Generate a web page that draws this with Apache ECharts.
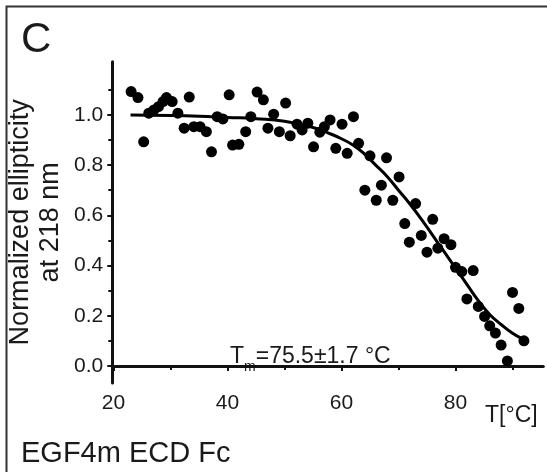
<!DOCTYPE html>
<html>
<head>
<meta charset="utf-8">
<script src="https://cdn.jsdelivr.net/npm/echarts@6/dist/echarts.min.js"></script>
<style>
html,body{margin:0;padding:0;background:#fff;}
#chart{width:547px;height:472px;}
</style>
</head>
<body>
<div id="chart"></div>
<script>
// Measured points (temperature in °C, normalized ellipticity at 218 nm)
var tempPoints = [23.1,24.3,25.3,26.2,27.1,27.9,28.7,29.3,30.3,31.3,32.4,33.3,34.1,35.2,36.3,37.2,38.2,39.2,40.3,40.9,42.0,43.2,44.1,45.2,46.3,47.1,48.1,49.1,50.2,51.0,52.2,53.1,54.1,55.1,56.2,57.0,58.0,59.0,60.1,61.0,62.1,63.0,64.1,65.0,66.1,67.0,67.9,69.0,70.1,71.1,71.9,73.0,74.0,75.0,76.0,76.9,78.0,79.2,80.0,81.1,82.0,83.1,84.0,85.1,86.0,87.0,88.0,89.1,90.0,91.1,92.0];
var ellipticity = [1.093,1.069,0.893,1.007,1.02,1.033,1.053,1.069,1.053,1.007,0.947,1.071,0.953,0.953,0.933,0.853,0.993,0.984,1.08,0.88,0.883,0.933,0.993,1.091,1.06,0.947,1.003,0.933,1.047,0.917,0.963,0.94,0.967,0.873,0.931,0.953,0.98,0.867,0.963,0.847,0.993,0.887,0.70,0.837,0.66,0.72,0.829,0.66,0.753,0.567,0.493,0.647,0.52,0.453,0.584,0.469,0.507,0.483,0.393,0.376,0.267,0.38,0.237,0.197,0.16,0.131,0.083,0.02,0.293,0.229,0.10];
// Fitted curve
var fitTemp = [23,30,35,40,45,50,55,58,60,62,64,66,68,70,72,74,76,78,80,82,84,86,88,90,92];
var fitValue = [1.000,0.998,0.995,0.99,0.985,0.975,0.95,0.925,0.905,0.88,0.845,0.80,0.755,0.70,0.645,0.585,0.52,0.455,0.39,0.325,0.26,0.205,0.165,0.13,0.105];
// Ticks
var yMajorTicks = [0,0.2,0.4,0.6,0.8,1.0];
var yMinorTicks = [0.1,0.3,0.5,0.7,0.9,1.1];
var xMajorTicks = [20,40,60,80];
var xMinorTicks = [30,50,70,90];

var FONT = '"Liberation Sans", Arial, sans-serif';
var TXT = '#1a1a1a';

var scatterData = tempPoints.map(function(t,i){return [t, ellipticity[i]];});
var fitData = fitTemp.map(function(t,i){return [t, fitValue[i]];});

var chart = echarts.init(document.getElementById('chart'), null, {renderer:'canvas'});
var xMin = 19.8, xMax = 95.4, yMin = -0.068, yMax = 1.212;
var axisCommonX = {
  type:'value', min:xMin, max:xMax, position:'bottom', offset:-8,
  splitLine:{show:false}
};
var option = {
  backgroundColor:'#fff',
  animation:false,
  grid:{left:112.3, top:61.7, right:3.7, bottom:89, outerBoundsMode:'none'},
  xAxis:[
    Object.assign({}, axisCommonX, {
      axisLine:{show:true, lineStyle:{color:'#111', width:3}},
      axisTick:{show:true, inside:false, length:5, customValues:xMajorTicks, lineStyle:{color:'#111', width:2}},
      axisLabel:{show:true, customValues:xMajorTicks, margin:18, fontSize:21, fontFamily:FONT, color:TXT}
    }),
    Object.assign({}, axisCommonX, {
      axisLine:{show:false},
      axisTick:{show:true, inside:false, length:4, customValues:xMinorTicks, lineStyle:{color:'#111', width:2}},
      axisLabel:{show:false}
    })
  ],
  yAxis:[
    {
      type:'value', min:yMin, max:yMax, position:'left',
      name:'Normalized ellipticity\nat 218 nm', nameLocation:'middle', nameGap:47, nameRotate:90,
      nameMoveOverlap:false,
      nameTextStyle:{fontSize:27, fontFamily:FONT, color:TXT, lineHeight:30},
      splitLine:{show:false},
      axisLine:{show:true, lineStyle:{color:'#111', width:3}},
      axisTick:{show:true, inside:false, length:5, customValues:yMajorTicks, lineStyle:{color:'#111', width:2}},
      axisLabel:{show:true, customValues:yMajorTicks, margin:9, fontSize:21, fontFamily:FONT, color:TXT,
        formatter:function(v){return v.toFixed(1);}}
    },
    {
      type:'value', min:yMin, max:yMax, position:'left',
      splitLine:{show:false},
      axisLine:{show:false},
      axisTick:{show:true, inside:false, length:4, customValues:yMinorTicks, lineStyle:{color:'#111', width:2}},
      axisLabel:{show:false}
    }
  ],
  series:[
    {type:'line', data:fitData, smooth:true, showSymbol:false, symbol:'none',
     lineStyle:{color:'#000', width:3}, z:2},
    {type:'scatter', data:scatterData, symbol:'circle', symbolSize:11,
     itemStyle:{color:'#000', opacity:1}, z:3}
  ],
  graphic:[
    {type:'rect', left:4, top:4, shape:{x:0,y:0,width:600,height:520},
     style:{fill:'none', stroke:'#333', lineWidth:2}, silent:true},
    {type:'text', left:21, top:19, style:{text:'C', fontSize:42, fontFamily:FONT, fill:TXT}},
    {type:'text', left:21, top:439, style:{text:'EGF4m ECD Fc', fontSize:29, fontFamily:FONT, fill:TXT}},
    {type:'text', left:485, top:404, style:{text:'T[°C]', fontSize:23, fontFamily:FONT, fill:TXT}},
    {type:'text', left:230, top:345, style:{
      text:'{t|T}{s|m}{n|=75.5±1.7 °C}',
      rich:{
        t:{fontSize:23, fontFamily:FONT, fill:TXT, lineHeight:25, verticalAlign:'bottom'},
        s:{fontSize:14, fontFamily:FONT, fill:TXT, lineHeight:14, verticalAlign:'bottom', padding:[0,0,-6,0]},
        n:{fontSize:23, fontFamily:FONT, fill:TXT, lineHeight:25, verticalAlign:'bottom'}
      }
    }}
  ]
};
chart.setOption(option);
</script>
</body>
</html>
